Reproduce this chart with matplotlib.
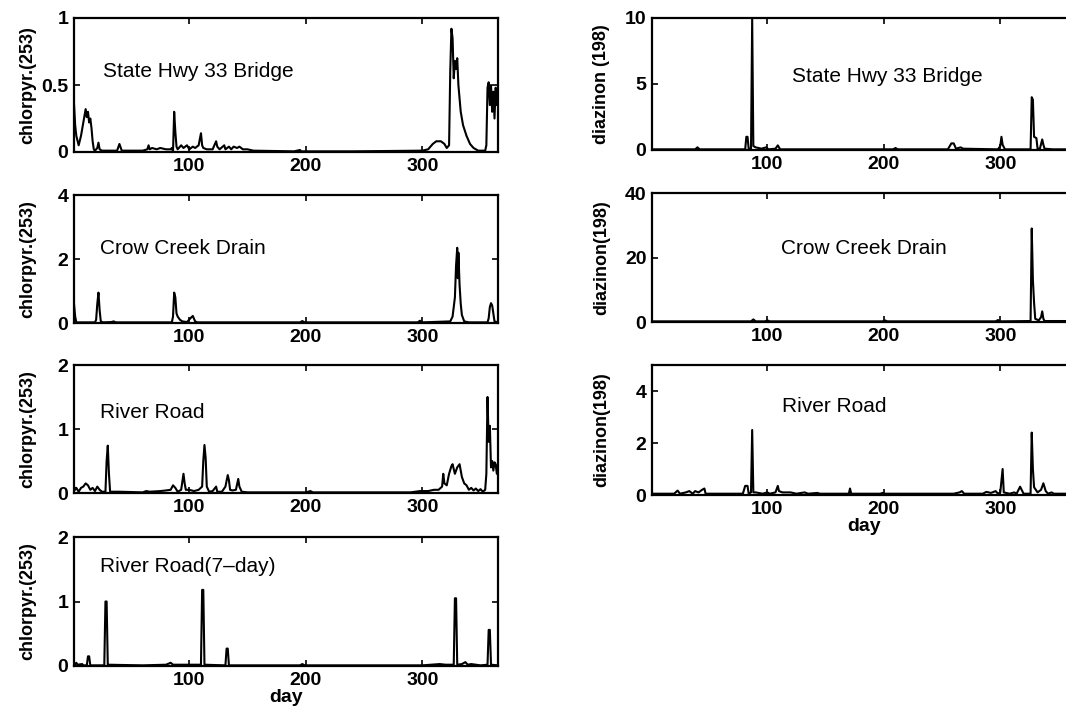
import numpy as np
from matplotlib import pyplot as plt

# (day, concentration)
hwy_chl = [(1, .36), (2, .2), (3, .12), (5, .05), (7, .12), (9, .22), (11, .32), (12, .26),
           (13, .3), (14, .22), (15, .25), (16, .18), (17, .08), (18, .02), (19, .01), (21, .03),
           (22, .07), (23, .02), (25, .01), (38, .01), (40, .06), (42, .01), (60, .01), (64, .02),
           (65, .05), (66, .02), (68, .03), (72, .02), (75, .03), (80, .02), (84, .02), (85, .03),
           (86, 0), (87, .3), (88, .15), (89, .04), (90, .02), (93, .05), (95, .03), (98, .05),
           (100, .02), (103, .04), (105, .03), (108, .05), (110, .14), (111, .05), (112, .03),
           (115, .02), (120, .02), (123, .08), (124, .04), (126, .02), (130, .05), (131, .02),
           (134, .04), (136, .02), (138, .04), (141, .03), (143, .04), (146, .02), (150, .02),
           (155, .01), (190, .005), (195, .015), (196, .005), (240, .005), (300, .01), (305, .02),
           (309, .06), (312, .08), (316, .08), (319, .06), (321, .03), (323, .05), (324, .6),
           (325, .92), (326, .85), (327, .55), (328, .68), (329, .62), (330, .7), (331, .5),
           (333, .3), (335, .2), (338, .12), (341, .06), (344, .03), (348, .01), (354, .01),
           (355, .05), (356, .48), (357, .52), (358, .35), (359, .5), (360, .3), (361, .45),
           (362, .25), (363, .48), (364, .35), (365, .4)]

crow_chl = [(1, .6), (2, .2), (3, .02), (19, .02), (20, .1), (21, .6), (22, .95), (23, .4),
            (24, .05), (26, .02), (33, .03), (35, .05), (37, .02), (85, .02), (86, .2), (87, .95),
            (88, .8), (89, .3), (90, .2), (92, .1), (94, .05), (98, .03), (101, .15), (103, .22),
            (105, .05), (107, .02), (195, .02), (197, .06), (199, .02), (296, .02), (298, .07),
            (300, .02), (324, .05), (326, .2), (328, .8), (329, 1.8), (330, 2.35), (330.5, 1.4),
            (331, 2.2), (332, 1.2), (333, .6), (334, .25), (336, .05), (340, .02), (356, .02),
            (357, .15), (358, .5), (359, .62), (360, .55), (361, .3), (362, .05), (365, .02)]

river_chl = [(1, .1), (2, .05), (3, .08), (5, .02), (7, .08), (9, .1), (11, .15), (13, .12),
             (15, .05), (17, .08), (19, .03), (21, .1), (23, .05), (25, .02), (28, .02), (29, .5),
             (30, .74), (31, .3), (32, .02), (40, .02), (60, .01), (63, .03), (66, .02), (75, .03),
             (80, .04), (84, .05), (86, .12), (88, .08), (90, .02), (93, .05), (95, .3), (96, .15),
             (97, .05), (100, .05), (104, .03), (108, .05), (111, .1), (112, .5), (113, .75),
             (114, .55), (115, .1), (117, .02), (120, .03), (123, .1), (124, .02), (128, .02),
             (131, .1), (133, .28), (134, .2), (135, .05), (137, .04), (140, .05), (142, .22),
             (143, .1), (145, .02), (150, .01), (200, .01), (204, .03), (206, .01), (290, .01),
             (298, .03), (305, .03), (310, .05), (314, .05), (317, .1), (318, .3), (319, .15),
             (321, .12), (323, .3), (325, .42), (326, .45), (328, .3), (330, .4), (332, .45),
             (334, .25), (336, .15), (338, .12), (340, .05), (342, .08), (344, .04), (346, .07),
             (348, .03), (350, .06), (352, .02), (354, .05), (355, .3), (356, 1.5), (357, .8),
             (358, 1.05), (359, .4), (360, .5), (361, .35), (362, .48), (363, .45), (364, .3),
             (365, .45)]

river7_chl = [(1, .01), (3, .05), (4, .02), (8, .03), (9, .01), (12, .01), (13, .15), (14, .15),
              (15, .01), (27, .01), (28, 1.0), (29, 1.0), (30, .02), (60, .01), (80, .02),
              (84, .05), (86, .02), (110, .02), (111, 1.18), (112, 1.18), (113, .02), (131, .01),
              (132, .27), (133, .27), (134, .01), (195, .01), (197, .03), (199, .01), (300, .01),
              (315, .03), (320, .02), (327, .02), (328, 1.05), (329, 1.05), (330, .02), (334, .03),
              (337, .06), (339, .02), (342, .03), (350, .01), (356, .02), (357, .56), (358, .56),
              (359, .02), (365, .01)]

hwy_dia = [(1, .05), (38, .05), (40, .2), (42, .05), (81, .05), (82, 1.0), (83, 1.0), (84, .1),
           (86, .1), (87, 9.9), (88, .3), (90, .2), (95, .1), (99, .2), (101, .05), (107, .1),
           (109, .35), (111, .05), (150, .05), (208, .05), (210, .15), (212, .05), (255, .05),
           (258, .5), (260, .5), (262, .1), (266, .2), (268, .1), (298, .05), (300, .3),
           (301, 1.0), (302, .4), (304, .05), (326, .05), (327, 4.0), (328, 3.8), (329, 1.0),
           (331, .9), (332, .1), (334, .1), (336, .8), (337, .4), (338, .1), (345, .05), (365, .05)]

crow_dia = [(1, .2), (86, .2), (88, .8), (90, .2), (98, .2), (100, .5), (102, .2), (199, .2),
            (201, .5), (203, .2), (296, .2), (298, .6), (300, .2), (326, .3), (327, 29),
            (328, 13), (329, 6), (330, 1), (333, .5), (335, 1.5), (336, 3.3), (337, 1),
            (338, .3), (365, .3)]

river_dia = [(1, .05), (20, .05), (23, .17), (25, .05), (30, .1), (33, .15), (36, .05), (38, .15),
             (41, .1), (44, .2), (46, .25), (47, .05), (79, .05), (81, .35), (83, .35), (84, .05),
             (86, .1), (87, 2.5), (88, .1), (90, .1), (96, .05), (100, .1), (102, .05), (107, .1),
             (109, .35), (110, .15), (113, .1), (120, .1), (125, .05), (132, .1), (135, .05),
             (143, .08), (145, .05), (170, .05), (171, .25), (172, .05), (197, .05), (199, .08),
             (201, .05), (260, .05), (265, .1), (267, .15), (269, .05), (285, .05), (288, .12),
             (292, .08), (296, .15), (298, .05), (300, .1), (302, 1.0), (303, .1), (308, .05),
             (312, .1), (314, .05), (317, .32), (320, .05), (326, .05), (327, 2.4), (328, 1.0),
             (329, .3), (332, .1), (335, .2), (337, .45), (339, .15), (341, .05), (344, .1),
             (346, .05), (365, .05)]

day_ticks = [100, 200, 300]

# series, site name, y label, y limit, y ticks, y tick labels
left_panels = [
    (hwy_chl, 'State Hwy 33 Bridge', 'chlorpyr.(253)', 1, [0, 0.5, 1], ['0', '0.5', '1']),
    (crow_chl, 'Crow Creek Drain', 'chlorpyr.(253)', 4, [0, 2, 4], ['0', '2', '4']),
    (river_chl, 'River Road', 'chlorpyr.(253)', 2, [0, 1, 2], ['0', '1', '2']),
    (river7_chl, 'River Road(7\u2013day)', 'chlorpyr.(253)', 2, [0, 1, 2], ['0', '1', '2']),
]
right_panels = [
    (hwy_dia, 'State Hwy 33 Bridge', 'diazinon (198)', 10, [0, 5, 10], ['0', '5', '10']),
    (crow_dia, 'Crow Creek Drain', 'diazinon(198)', 40, [0, 20, 40], ['0', '20', '40']),
    (river_dia, 'River Road', 'diazinon(198)', 5, [0, 2, 4], ['0', '2', '4']),
]

plt.rcParams['font.family'] = ['Liberation Sans', 'DejaVu Sans']
plt.rcParams['font.weight'] = 'bold'
plt.rcParams['axes.labelweight'] = 'bold'

fig = plt.figure(figsize=(10.66, 7.12), dpi=100)

W = 424 / 1066.
left_rects = [(74, 18, 152), (74, 195, 323), (74, 365, 493), (74, 537, 666)]
right_rects = [(652, 18, 150), (652, 193, 322), (652, 365, 495)]
left_text_pos = [(0.068, 0.6), (0.061, 0.58), (0.061, 0.63), (0.061, 0.77)]
right_text_pos = [(0.33, 0.555), (0.304, 0.566), (0.306, 0.68)]


def draw_panel(rect, panel, text_pos, ylab_x, show_day):
    series, site, ylab, ymax, yt, ytl = panel
    x0, ytop, ybot = rect
    ax = fig.add_axes([x0 / 1066., 1 - ybot / 712., W, (ybot - ytop) / 712.])
    d = np.array(series)
    ax.plot(d[:, 0], d[:, 1], color='black', lw=1.5)
    ax.set_xlim(1, 365)
    ax.set_ylim(0, ymax)
    ax.set_xticks(day_ticks)
    ax.set_xticklabels([str(t) for t in day_ticks])
    ax.set_yticks(yt)
    ax.set_yticklabels(ytl)
    ax.tick_params(direction='in', top=True, right=True, length=4, width=1.2,
                   labelsize=14, pad=4)
    for s in ax.spines.values():
        s.set_linewidth(1.6)
    ax.set_ylabel(ylab, fontsize=13)
    ax.yaxis.set_label_coords(ylab_x, 0.5)
    ax.text(text_pos[0], text_pos[1], site, transform=ax.transAxes, fontsize=15,
            fontweight='normal', va='center', ha='left')
    if show_day:
        ax.set_xlabel('day', fontsize=14, labelpad=0)
    return ax


for i, panel in enumerate(left_panels):
    draw_panel(left_rects[i], panel, left_text_pos[i], -0.09, i == len(left_panels) - 1)

for i, panel in enumerate(right_panels):
    draw_panel(right_rects[i], panel, right_text_pos[i], -0.099, i == len(right_panels) - 1)

fig.savefig('out.png', dpi=100)
